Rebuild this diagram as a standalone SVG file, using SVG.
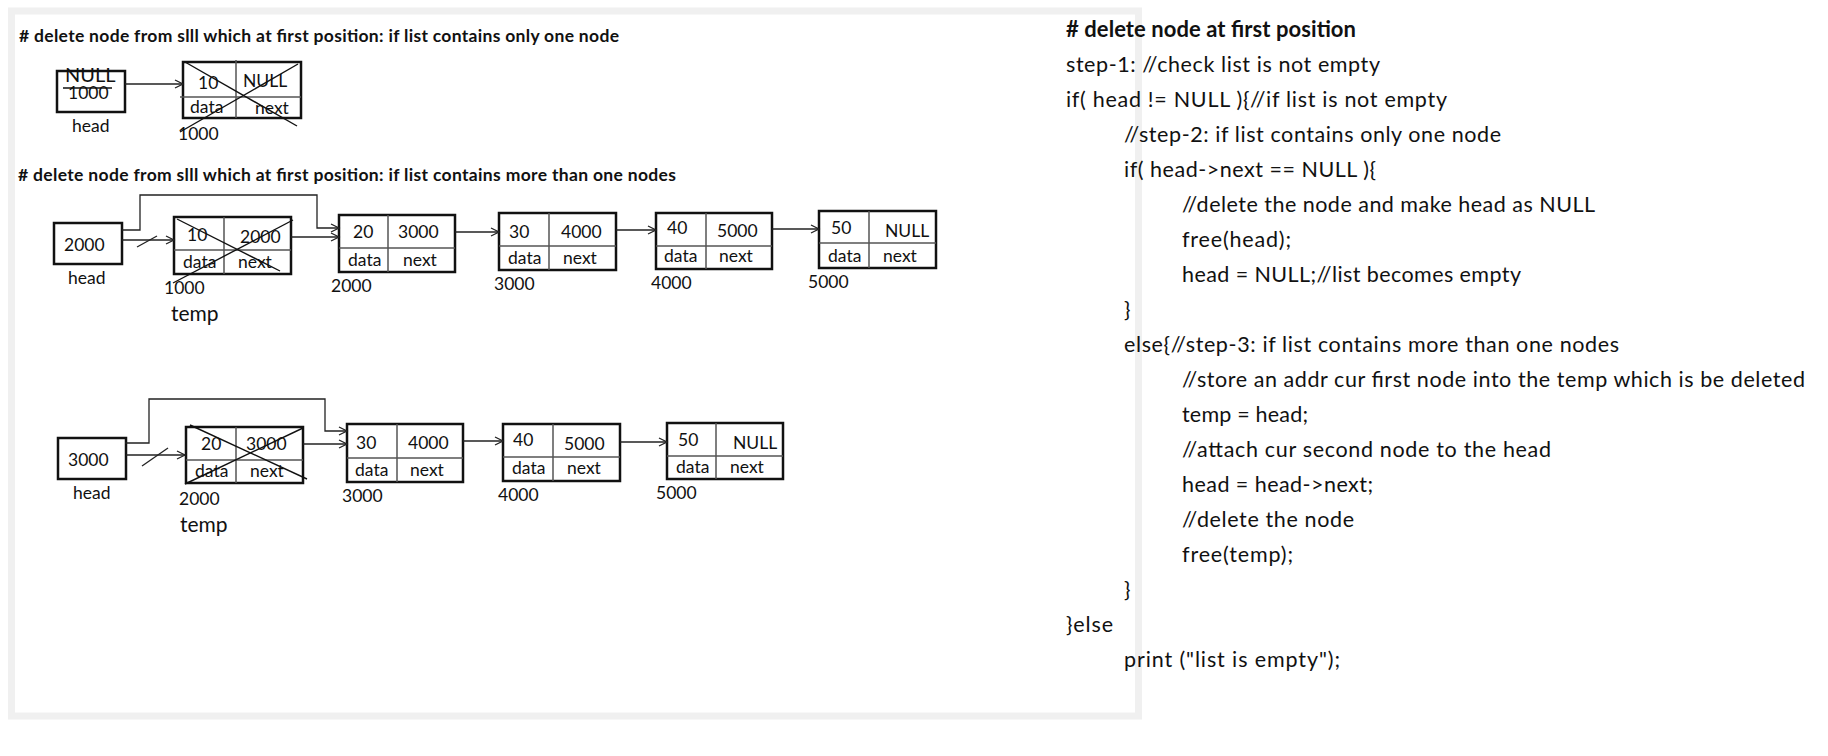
<svg xmlns="http://www.w3.org/2000/svg" width="1828" height="756" viewBox="0 0 1828 756">
<style>
text{font-family:Lato,"Open Sans","Liberation Sans",sans-serif;fill:#111}
.h{font-weight:bold;font-size:17.5px}
.hr{font-weight:bold;font-size:22px}
.c{font-size:21.5px}
.t{font-size:17.5px}
.l{font-size:17.5px}
.tmp{font-size:21px}
.box{fill:none;stroke:#111;stroke-width:2.5}
.div{fill:none;stroke:#555;stroke-width:1.5}
.x{fill:none;stroke:#111;stroke-width:1.4}
.ln{fill:none;stroke:#222;stroke-width:1.3}
</style>
<defs>
<marker id="ah" markerUnits="userSpaceOnUse" markerWidth="12" markerHeight="12" refX="9" refY="5" orient="auto">
<path d="M1,1 L9,5 L1,9" fill="none" stroke="#222" stroke-width="1.3"/>
</marker>
</defs>
<rect x="0" y="0" width="1828" height="756" fill="#fff"/>
<rect id="panel" x="11.5" y="11" width="1127" height="705" fill="#fff" stroke="#f0f0f0" stroke-width="7"/>

<text class="h" x="19" y="42" textLength="600"># delete node from slll which at first position: if list contains only one node</text>
<text class="h" x="18" y="181" textLength="658"># delete node from slll which at first position: if list contains more than one nodes</text>

<!-- Diagram 1 -->
<g id="d1-head">
<rect class="box" x="57" y="71" width="68" height="41"/>
<text x="65" y="82" style="font-size:20px">NULL</text>
<text class="t" x="68" y="99">1000</text>
<line class="x" x1="63" y1="88" x2="112" y2="88"/>
<text class="l" x="72" y="132">head</text>
</g>
<g id="d1-node1000">
<rect class="box" x="183" y="62" width="118" height="56"/>
<line class="div" x1="180" y1="97" x2="301" y2="97"/>
<line class="div" x1="236" y1="60" x2="236" y2="118"/>
<text class="t" x="198" y="89">10</text>
<text class="t" x="243" y="87">NULL</text>
<text class="t" x="190" y="113">data</text>
<text class="t" x="255" y="114">next</text>
<line class="x" x1="185" y1="62" x2="297" y2="126"/>
<line class="x" x1="180" y1="132" x2="298" y2="64"/>
<text class="l" x="178" y="140">1000</text>
</g>

<!-- Diagram 2 -->
<g id="d2-head">
<rect class="box" x="54" y="223" width="68" height="41"/>
<text class="t" x="64" y="251">2000</text>
<text class="l" x="68" y="284">head</text>
</g>
<g id="d2-node1000">
<rect class="box" x="174" y="217" width="117" height="57"/>
<line class="div" x1="174" y1="250" x2="291" y2="250"/>
<line class="div" x1="224" y1="217" x2="224" y2="274"/>
<text class="t" x="187" y="241">10</text>
<text class="t" x="240" y="243">2000</text>
<text class="t" x="183" y="268">data</text>
<text class="t" x="238" y="268">next</text>
<line class="x" x1="177" y1="219" x2="280" y2="271"/>
<line class="x" x1="173" y1="283" x2="293" y2="220"/>
<text class="l" x="164" y="294">1000</text>
<text class="tmp" x="171" y="321">temp</text>
</g>
<g id="d2-node2000">
<rect class="box" x="339" y="215" width="116" height="57"/>
<line class="div" x1="339" y1="248" x2="455" y2="248"/>
<line class="div" x1="388" y1="215" x2="388" y2="272"/>
<text class="t" x="353" y="238">20</text>
<text class="t" x="398" y="238">3000</text>
<text class="t" x="348" y="266">data</text>
<text class="t" x="403" y="266">next</text>
<text class="l" x="331" y="292">2000</text>
</g>
<g id="d2-node3000">
<rect class="box" x="499" y="213" width="117" height="57"/>
<line class="div" x1="499" y1="246" x2="616" y2="246"/>
<line class="div" x1="549" y1="213" x2="549" y2="270"/>
<text class="t" x="509" y="238">30</text>
<text class="t" x="561" y="238">4000</text>
<text class="t" x="508" y="264">data</text>
<text class="t" x="563" y="264">next</text>
<text class="l" x="494" y="290">3000</text>
</g>
<g id="d2-node4000">
<rect class="box" x="656" y="213" width="116" height="56"/>
<line class="div" x1="656" y1="246" x2="772" y2="246"/>
<line class="div" x1="706" y1="213" x2="706" y2="269"/>
<text class="t" x="667" y="234">40</text>
<text class="t" x="717" y="237">5000</text>
<text class="t" x="664" y="262">data</text>
<text class="t" x="719" y="262">next</text>
<text class="l" x="651" y="289">4000</text>
</g>
<g id="d2-node5000">
<rect class="box" x="819" y="211" width="117" height="57"/>
<line class="div" x1="819" y1="243" x2="936" y2="243"/>
<line class="div" x1="869" y1="211" x2="869" y2="268"/>
<text class="t" x="831" y="234">50</text>
<text class="t" x="885" y="237">NULL</text>
<text class="t" x="828" y="262">data</text>
<text class="t" x="883" y="262">next</text>
<text class="l" x="808" y="288">5000</text>
</g>

<!-- Diagram 3 -->
<g id="d3-head">
<rect class="box" x="58" y="438" width="68" height="41"/>
<text class="t" x="68" y="466">3000</text>
<text class="l" x="73" y="499">head</text>
</g>
<g id="d3-node2000">
<rect class="box" x="186" y="427" width="117" height="56"/>
<line class="div" x1="186" y1="460" x2="303" y2="460"/>
<line class="div" x1="236" y1="427" x2="236" y2="483"/>
<text class="t" x="201" y="450">20</text>
<text class="t" x="246" y="450">3000</text>
<text class="t" x="195" y="477">data</text>
<text class="t" x="250" y="477">next</text>
<line class="x" x1="190" y1="425" x2="307" y2="479"/>
<line class="x" x1="185" y1="484" x2="303" y2="428"/>
<text class="l" x="179" y="505">2000</text>
<text class="tmp" x="180" y="532">temp</text>
</g>
<g id="d3-node3000">
<rect class="box" x="347" y="424" width="116" height="58"/>
<line class="div" x1="347" y1="458" x2="463" y2="458"/>
<line class="div" x1="397" y1="424" x2="397" y2="482"/>
<text class="t" x="356" y="449">30</text>
<text class="t" x="408" y="449">4000</text>
<text class="t" x="355" y="476">data</text>
<text class="t" x="410" y="476">next</text>
<text class="l" x="342" y="502">3000</text>
</g>
<g id="d3-node4000">
<rect class="box" x="503" y="424" width="117" height="57"/>
<line class="div" x1="503" y1="457" x2="620" y2="457"/>
<line class="div" x1="553" y1="424" x2="553" y2="481"/>
<text class="t" x="513" y="446">40</text>
<text class="t" x="564" y="450">5000</text>
<text class="t" x="512" y="474">data</text>
<text class="t" x="567" y="474">next</text>
<text class="l" x="498" y="501">4000</text>
</g>
<g id="d3-node5000">
<rect class="box" x="667" y="423" width="116" height="56"/>
<line class="div" x1="667" y1="456" x2="783" y2="456"/>
<line class="div" x1="716" y1="423" x2="716" y2="479"/>
<text class="t" x="678" y="446">50</text>
<text class="t" x="733" y="449">NULL</text>
<text class="t" x="676" y="473">data</text>
<text class="t" x="730" y="473">next</text>
<text class="l" x="656" y="499">5000</text>
</g>

<g id="connectors">
<line class="ln" x1="125" y1="84" x2="183" y2="84" marker-end="url(#ah)"/>
<polyline class="ln" points="122,230 140,230 140,195 317,195 317,228 339,228" marker-end="url(#ah)"/>
<line class="ln" x1="122" y1="240" x2="174" y2="240" marker-end="url(#ah)"/>
<line class="ln" x1="137" y1="247" x2="157" y2="236"/>
<line class="ln" x1="291" y1="237" x2="339" y2="237" marker-end="url(#ah)"/>
<line class="ln" x1="455" y1="232" x2="499" y2="232" marker-end="url(#ah)"/>
<line class="ln" x1="616" y1="230" x2="656" y2="230" marker-end="url(#ah)"/>
<line class="ln" x1="772" y1="229" x2="819" y2="229" marker-end="url(#ah)"/>
<polyline class="ln" points="125,443 149,443 149,399 325,399 325,431 347,431" marker-end="url(#ah)"/>
<line class="ln" x1="126" y1="455" x2="185" y2="455" marker-end="url(#ah)"/>
<line class="ln" x1="142" y1="466" x2="168" y2="448"/>
<line class="ln" x1="303" y1="444" x2="347" y2="444" marker-end="url(#ah)"/>
<line class="ln" x1="463" y1="441" x2="503" y2="441" marker-end="url(#ah)"/>
<line class="ln" x1="620" y1="442" x2="667" y2="442" marker-end="url(#ah)"/>
</g>

<g id="code">
<text class="hr" x="1066" y="37" textLength="290"># delete node at first position</text>
<text class="c" x="1066" y="72" textLength="314">step-1: //check list is not empty</text>
<text class="c" x="1066" y="107" textLength="381">if( head != NULL ){//if list is not empty</text>
<text class="c" x="1124" y="142" textLength="377">//step-2: if list contains only one node</text>
<text class="c" x="1124" y="177" textLength="252">if( head-&gt;next == NULL ){</text>
<text class="c" x="1182" y="212" textLength="413">//delete the node and make head as NULL</text>
<text class="c" x="1182" y="247" textLength="109">free(head);</text>
<text class="c" x="1182" y="282" textLength="339">head = NULL;//list becomes empty</text>
<text class="c" x="1124" y="317">}</text>
<text class="c" x="1124" y="352" textLength="495">else{//step-3: if list contains more than one nodes</text>
<text class="c" x="1182" y="387" textLength="623">//store an addr cur first node into the temp which is be deleted</text>
<text class="c" x="1182" y="422" textLength="126">temp = head;</text>
<text class="c" x="1182" y="457" textLength="369">//attach cur second node to the head</text>
<text class="c" x="1182" y="492" textLength="191">head = head-&gt;next;</text>
<text class="c" x="1182" y="527" textLength="172">//delete the node</text>
<text class="c" x="1182" y="562" textLength="111">free(temp);</text>
<text class="c" x="1124" y="597">}</text>
<text class="c" x="1066" y="632" textLength="47">}else</text>
<text class="c" x="1124" y="667" textLength="216">print ("list is empty");</text>
</g>
</svg>
